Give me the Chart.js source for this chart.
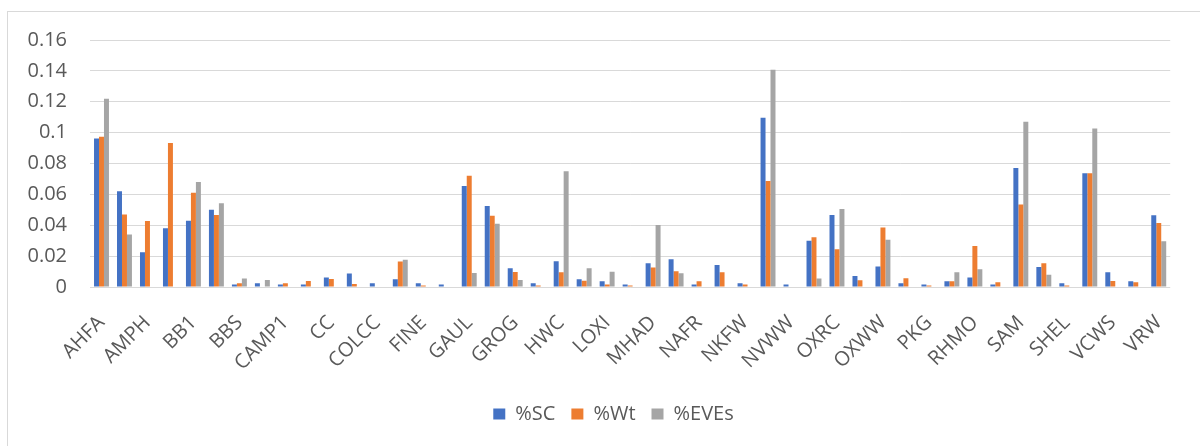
<!DOCTYPE html>
<html>
<head>
<meta charset="utf-8">
<script src="https://cdn.jsdelivr.net/npm/chart.js@4/dist/chart.umd.min.js"></script>
<style>
  html, body { margin: 0; padding: 0; background: #ffffff; }
  #wrap { width: 1200px; height: 446px; position: relative; }
</style>
</head>
<body>
<div id="wrap"><canvas id="chart"></canvas></div>
<script>
// Sites along the x axis; every second site is left unlabelled on the axis.
const categories = [
  'AHFA', '', 'AMPH', '', 'BB1', '', 'BBS', '', 'CAMP1', '', 'CC', '',
  'COLCC', '', 'FINE', '', 'GAUL', '', 'GROG', '', 'HWC', '', 'LOXI', '',
  'MHAD', '', 'NAFR', '', 'NKFW', '', 'NVWW', '', 'OXRC', '', 'OXWW', '',
  'PKG', '', 'RHMO', '', 'SAM', '', 'SHEL', '', 'VCWS', '', 'VRW'
];

const pctSC = [
  0.0962, 0.0620, 0.0225, 0.0380, 0.0429, 0.0500, 0.0016, 0.0024, 0.0016, 0.0016,
  0.0061, 0.0087, 0.0024, 0.0050, 0.0024, 0.0016, 0.0654, 0.0524, 0.0121, 0.0024,
  0.0167, 0.0050, 0.0037, 0.0016, 0.0154, 0.0180, 0.0016, 0.0143, 0.0024, 0.1096,
  0.0016, 0.0299, 0.0466, 0.0072, 0.0132, 0.0024, 0.0016, 0.0037, 0.0061, 0.0016,
  0.0771, 0.0130, 0.0024, 0.0737, 0.0096, 0.0037, 0.0464
];

const pctWt = [
  0.0973, 0.0470, 0.0427, 0.0932, 0.0611, 0.0466, 0.0024, 0.0000, 0.0024, 0.0039,
  0.0052, 0.0020, 0.0000, 0.0165, 0.0009, 0.0000, 0.0720, 0.0461, 0.0097, 0.0009,
  0.0096, 0.0040, 0.0016, 0.0010, 0.0126, 0.0102, 0.0037, 0.0096, 0.0017, 0.0687,
  0.0000, 0.0323, 0.0245, 0.0044, 0.0386, 0.0057, 0.0010, 0.0037, 0.0265, 0.0030,
  0.0535, 0.0154, 0.0009, 0.0737, 0.0039, 0.0030, 0.0414
];

const pctEVEs = [
  0.1220, 0.0340, 0.0000, 0.0000, 0.0680, 0.0542, 0.0055, 0.0046, 0.0000, 0.0000,
  0.0000, 0.0000, 0.0000, 0.0176, 0.0000, 0.0000, 0.0090, 0.0410, 0.0046, 0.0000,
  0.0750, 0.0122, 0.0098, 0.0000, 0.0401, 0.0089, 0.0000, 0.0000, 0.0000, 0.1408,
  0.0000, 0.0055, 0.0505, 0.0000, 0.0306, 0.0000, 0.0000, 0.0096, 0.0115, 0.0000,
  0.1070, 0.0080, 0.0000, 0.1027, 0.0000, 0.0000, 0.0297
];

const yTicks = [0, 0.02, 0.04, 0.06, 0.08, 0.1, 0.12, 0.14, 0.16];
const yTickLabels = ['0', '0.02', '0.04', '0.06', '0.08', '0.1', '0.12', '0.14', '0.16'];

const FONT = { family: "'Open Sans', 'Liberation Sans', sans-serif", size: 20 };
const TEXT = '#595959';
const GRID = '#d9d9d9';

// Light frame around the whole chart area.
const framePlugin = {
  id: 'frame',
  beforeDraw(chart) {
    const ctx = chart.ctx;
    ctx.save();
    ctx.fillStyle = '#ffffff';
    ctx.fillRect(0, 0, chart.width, chart.height);
    ctx.strokeStyle = GRID;
    ctx.lineWidth = 1;
    ctx.strokeRect(7.5, 11.5, chart.width + 40, chart.height + 40);
    ctx.restore();
  }
};

// The frame runs past the right edge, so the legend sits centred on the frame
// rather than on the canvas: nudge its box to the right after layout.
const legendShift = {
  id: 'legendShift',
  afterLayout(chart) {
    const lg = chart.legend;
    if (lg) { lg.left += 20; lg.right += 20; }
  }
};

new Chart(document.getElementById('chart'), {
  type: 'bar',
  data: {
    labels: categories,
    datasets: [
      { label: '%SC', data: pctSC, backgroundColor: '#4472C4' },
      { label: '%Wt', data: pctWt, backgroundColor: '#ED7D31' },
      { label: '%EVEs', data: pctEVEs, backgroundColor: '#A5A5A5' }
    ]
  },
  options: {
    responsive: true,
    maintainAspectRatio: false,
    devicePixelRatio: 1,
    animation: false,
    datasets: {
      bar: { categoryPercentage: 0.65, barPercentage: 1.0, borderWidth: 0 }
    },
    layout: { padding: { left: 14, right: 27, top: 40, bottom: 12 } },
    plugins: {
      tooltip: { enabled: false },
      legend: {
        position: 'bottom',
        labels: {
          color: TEXT,
          font: FONT,
          boxWidth: 12,
          boxHeight: 11,
          padding: 16
        }
      }
    },
    scales: {
      x: {
        grid: { display: false, drawTicks: false },
        border: { display: false },
        ticks: {
          color: TEXT,
          font: FONT,
          autoSkip: false,
          minRotation: 45,
          maxRotation: 45,
          padding: 24,
          callback: (value, index) => categories[index]
        },
        afterFit(scale) { scale.height = 101; }
      },
      y: {
        min: 0,
        max: 0.16,
        grid: { color: GRID, lineWidth: 1, drawTicks: false },
        border: { display: false },
        ticks: {
          color: TEXT,
          font: FONT,
          padding: 23,
          callback: (value, index) => yTickLabels[index]
        },
        afterBuildTicks(scale) { scale.ticks = yTicks.map(v => ({ value: v })); },
        afterFit(scale) { scale.width = 76; }
      }
    }
  },
  plugins: [framePlugin, legendShift]
});
</script>
</body>
</html>
